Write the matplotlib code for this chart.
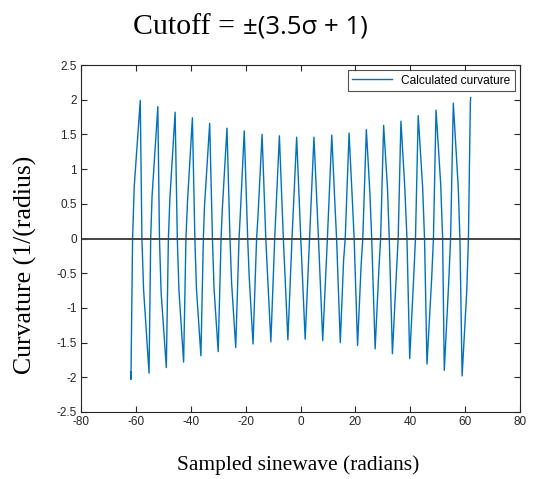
import numpy as np
import matplotlib
matplotlib.use('Agg')
import matplotlib.pyplot as plt
from matplotlib.ticker import FuncFormatter

# Peaks and troughs of the curvature trace (x in radians, y in 1/radius)
peak_x = [-58.4, -52.0, -45.7, -39.4, -33.1, -26.8, -20.5, -14.0, -7.7, -1.4,
          4.9, 11.4, 17.7, 24.0, 30.3, 36.6, 42.9, 49.4, 55.7]
peak_y = [1.99, 1.90, 1.82, 1.74, 1.66, 1.59, 1.55, 1.50, 1.48, 1.46,
          1.46, 1.49, 1.52, 1.57, 1.63, 1.69, 1.77, 1.85, 1.95]
trough_x = [-61.8, -55.2, -48.9, -42.6, -36.3, -30.0, -23.6, -17.3, -10.8, -4.6,
            1.7, 8.1, 14.5, 20.8, 27.2, 33.5, 39.8, 46.1, 52.4, 58.9]
trough_y = [-2.03, -1.94, -1.86, -1.78, -1.69, -1.63, -1.57, -1.52, -1.49, -1.46,
            -1.45, -1.47, -1.50, -1.54, -1.59, -1.66, -1.73, -1.81, -1.90, -1.98]

# Zero crossings
zero_x = [-61.2, -57.8, -54.6, -51.4, -48.15, -44.9, -41.75, -38.5, -35.4, -32.1,
          -28.95, -25.7, -22.4, -19.25, -16.0, -12.65, -9.4, -6.25, -3.1, 0.1,
          3.3, 6.55, 9.8, 13.15, 16.3, 19.55, 22.7, 25.95, 29.2, 32.35,
          35.6, 38.8, 41.9, 45.2, 48.45, 51.8, 54.7, 58.1, 61.2]

# Shoulders (slope changes) on the flanks
shoulder_x = [-60.6, -57.2, -54.1, -50.8, -47.6, -44.3, -41.2, -37.9, -35.0, -31.5,
              -28.5, -25.1, -21.9, -18.7, -15.5, -12.1,
              12.6, 15.7, 18.9, 22.1, 25.3, 28.6, 31.7, 35.0, 38.0, 41.3,
              44.5, 47.8, 51.1, 54.0, 57.5, 60.6]
shoulder_y = [0.75, -0.73, 0.61, -0.78, 0.58, -0.75, 0.52, -0.74, 0.46, -0.73,
              0.42, -0.65, 0.38, -0.55, 0.32, -0.45,
              0.45, -0.32, 0.55, -0.38, 0.65, -0.42, 0.73, -0.46, 0.74, -0.52,
              0.75, -0.58, 0.78, -0.65, 0.73, -0.75]

# Ends of the sampled trace
end_x = [-61.9, 61.9, 62.0]
end_y = [-1.92, 1.95, 2.03]

xs = np.array(peak_x + trough_x + zero_x + shoulder_x + end_x)
ys = np.array(peak_y + trough_y + [0.0] * len(zero_x) + shoulder_y + end_y)
order = np.argsort(xs, kind='stable')
xs, ys = xs[order], ys[order]

plt.rcParams['font.family'] = ['Liberation Sans', 'DejaVu Sans']
plt.rcParams['axes.unicode_minus'] = False

fig = plt.figure(figsize=(5.34, 4.79), dpi=100)
ax = fig.add_axes([81 / 534, 1 - 412 / 479, 439 / 534, 347 / 479])

ax.plot(xs, ys, color='#0072BD', linewidth=1.0, label='Calculated curvature')
ax.axhline(0, color='#444444', linewidth=1.4)

ax.set_xlim(-80, 80)
ax.set_ylim(-2.5, 2.5)
ax.set_xticks(np.arange(-80, 81, 20))
ax.set_yticks(np.arange(-2.5, 2.51, 0.5))
ax.yaxis.set_major_formatter(FuncFormatter(lambda v, p: ('%g' % v)))
ax.tick_params(direction='in', top=True, right=True, length=4, width=0.8,
               labelsize=8.5, colors='#262626', pad=3)
for s in ax.spines.values():
    s.set_color('#262626')
    s.set_linewidth(0.8)

leg = ax.legend(loc='upper right', fontsize=8.6, frameon=True, fancybox=False,
                handlelength=3.3, borderpad=0.35, borderaxespad=0.45)
leg.get_frame().set_edgecolor('#262626')
leg.get_frame().set_linewidth(0.8)

# Overlaid labels
fig.text(133 / 534, 1 - 34 / 479, 'Cutoff =', family='Liberation Serif',
         fontsize=21.5, ha='left', va='baseline')
fig.text(243 / 534, 1 - 34 / 479, '\u00b1(3.5\u03c3 + 1)', family='Open Sans',
         fontsize=18.5, ha='left', va='baseline')
fig.text(25 / 534, 1 - 265 / 479, 'Curvature (1/(radius)', family='Liberation Serif',
         fontsize=18.5, rotation=90, ha='center', va='center')
fig.text(298 / 534, 1 - 465 / 479, 'Sampled sinewave (radians)', family='Liberation Serif',
         fontsize=15.5, ha='center', va='center')

plt.savefig('out.png', dpi=100)
